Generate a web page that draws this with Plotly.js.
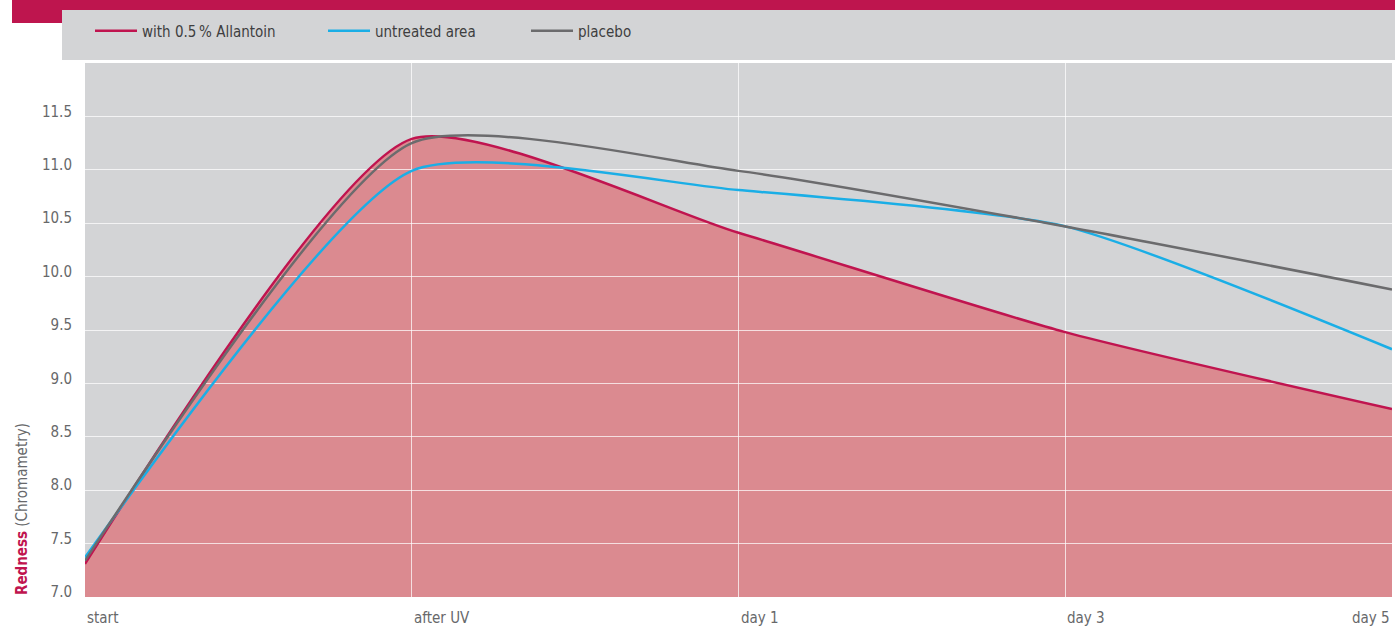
<!DOCTYPE html>
<html>
<head>
<meta charset="utf-8">
<script src="https://cdn.plot.ly/plotly-3.0.1.min.js"></script>
<style>
html,body{margin:0;padding:0;background:#ffffff;}
#chart{width:1395px;height:630px;}
</style>
</head>
<body>
<div id="chart"></div>
<script>
// ---- data ----
var categories = ["start", "after UV", "day 1", "day 3", "day 5"];
var allantoin = [7.31, 11.29, 10.41, 9.48, 8.76];
var untreated = [7.37, 10.99, 10.81, 10.47, 9.32];
var placebo   = [7.34, 11.25, 10.99, 10.47, 9.88];
var seriesNames = ["with 0.5\u202F% Allantoin", "untreated area", "placebo"];
var yTickVals = [7.0, 7.5, 8.0, 8.5, 9.0, 9.5, 10.0, 10.5, 11.0, 11.5];
var yTickText = ["7.0", "7.5", "8.0", "8.5", "9.0", "9.5", "10.0", "10.5", "11.0", "11.5"];

// ---- styles ----
var FONT = "'DejaVu Sans Condensed', 'Liberation Sans Narrow', 'Roboto', sans-serif";
var C_ALL = "#C0144F", C_UNT = "#1AAEE6", C_PLA = "#6B6B6D";
var C_FILL = "#DB8A90", C_BG = "#D3D4D6", C_TXT = "#67686A";
var SMOOTH = 0.6;

var xIdx = categories.map(function (_, i) { return i; });

var traces = [
  { x: xIdx, y: allantoin, xaxis: "x", yaxis: "y", type: "scatter", mode: "lines",
    fill: "tozeroy", fillcolor: C_FILL, line: { width: 0, shape: "spline", smoothing: SMOOTH },
    showlegend: false, hoverinfo: "skip" },
  { x: xIdx, y: allantoin, xaxis: "x2", yaxis: "y2", type: "scatter", mode: "lines",
    name: seriesNames[0], legend: "legend",
    line: { color: C_ALL, width: 2.5, shape: "spline", smoothing: SMOOTH } },
  { x: xIdx, y: untreated, xaxis: "x2", yaxis: "y2", type: "scatter", mode: "lines",
    name: seriesNames[1], legend: "legend2",
    line: { color: C_UNT, width: 2.5, shape: "spline", smoothing: SMOOTH } },
  { x: xIdx, y: placebo, xaxis: "x2", yaxis: "y2", type: "scatter", mode: "lines",
    name: seriesNames[2], legend: "legend3",
    line: { color: C_PLA, width: 2.5, shape: "spline", smoothing: SMOOTH } }
];

var W = 1395, H = 630, mL = 85, mR = 3, mT = 63, mB = 33;
var pw = W - mL - mR, ph = H - mT - mB;
function px(xp) { return (xp - mL) / pw; }
function py(yp) { return (H - mB - yp) / ph; }

var annotations = categories.map(function (c, i) {
  return { text: c, xref: "x", yref: "paper", x: i, y: 0,
    xanchor: i === categories.length - 1 ? "right" : "left", yanchor: "top",
    yshift: -10, showarrow: false, font: { family: FONT, size: 15, color: C_TXT } };
});
annotations.push({
  text: "<b><span style='color:" + C_ALL + "'>Redness</span></b> (Chromametry)",
  xref: "paper", yref: "paper", x: px(22), y: 0, xanchor: "center", yanchor: "bottom",
  textangle: -90, showarrow: false, font: { family: FONT, size: 15, color: C_TXT }
});

var shapes = [
  { type: "rect", xref: "paper", yref: "paper", x0: px(12), x1: px(1395), y0: py(10), y1: py(0),
    fillcolor: "#BE154E", line: { width: 0 }, layer: "below" },
  { type: "rect", xref: "paper", yref: "paper", x0: px(12), x1: px(62), y0: py(23), y1: py(10),
    fillcolor: "#BE154E", line: { width: 0 }, layer: "below" },
  { type: "rect", xref: "paper", yref: "paper", x0: px(62), x1: px(1395), y0: py(60), y1: py(10),
    fillcolor: C_BG, line: { width: 0 }, layer: "below" },
  { type: "rect", xref: "paper", yref: "paper", x0: 0, x1: 1, y0: 0, y1: 1,
    fillcolor: C_BG, line: { width: 0 }, layer: "below" }
];

function legendAt(xPix) {
  return { orientation: "h", x: px(xPix), y: py(31), xanchor: "left", yanchor: "middle",
    bgcolor: "rgba(0,0,0,0)", font: { family: FONT, size: 15, color: "#3E3E40" },
    itemwidth: 42 };
}

var xRange = [0, categories.length - 1];
var yRange = [7, 12];

var layout = {
  width: W, height: H,
  margin: { l: mL, r: mR, t: mT, b: mB, pad: 0 },
  paper_bgcolor: "#ffffff",
  plot_bgcolor: "rgba(0,0,0,0)",
  font: { family: FONT, size: 15, color: C_TXT },
  showlegend: true,
  legend: legendAt(90),
  legend2: legendAt(323),
  legend3: legendAt(526),
  xaxis: { domain: [0, 1], anchor: "y", range: xRange, showgrid: false, zeroline: false,
    showticklabels: false, ticks: "", showline: false, fixedrange: true },
  yaxis: { domain: [0, 1], anchor: "x", range: yRange, showgrid: false, zeroline: false,
    tickvals: yTickVals, ticktext: yTickText, ticks: "", ticklabelstandoff: 12,
    ticklabelshift: -5, tickfont: { family: FONT, size: 15, color: C_TXT }, showline: false },
  xaxis2: { domain: [0, 1], anchor: "y2", range: xRange, showgrid: true,
    gridcolor: "rgba(255,255,255,0.72)", gridwidth: 1, tickvals: xIdx,
    zeroline: false, showticklabels: false, ticks: "", showline: false },
  yaxis2: { domain: [0, 1], anchor: "x2", range: yRange, showgrid: true,
    gridcolor: "rgba(255,255,255,0.72)", gridwidth: 1, tickvals: yTickVals,
    zeroline: false, showticklabels: false, ticks: "", showline: false },
  annotations: annotations,
  shapes: shapes
};

Plotly.newPlot("chart", traces, layout, { displayModeBar: false, staticPlot: true });
</script>
</body>
</html>
